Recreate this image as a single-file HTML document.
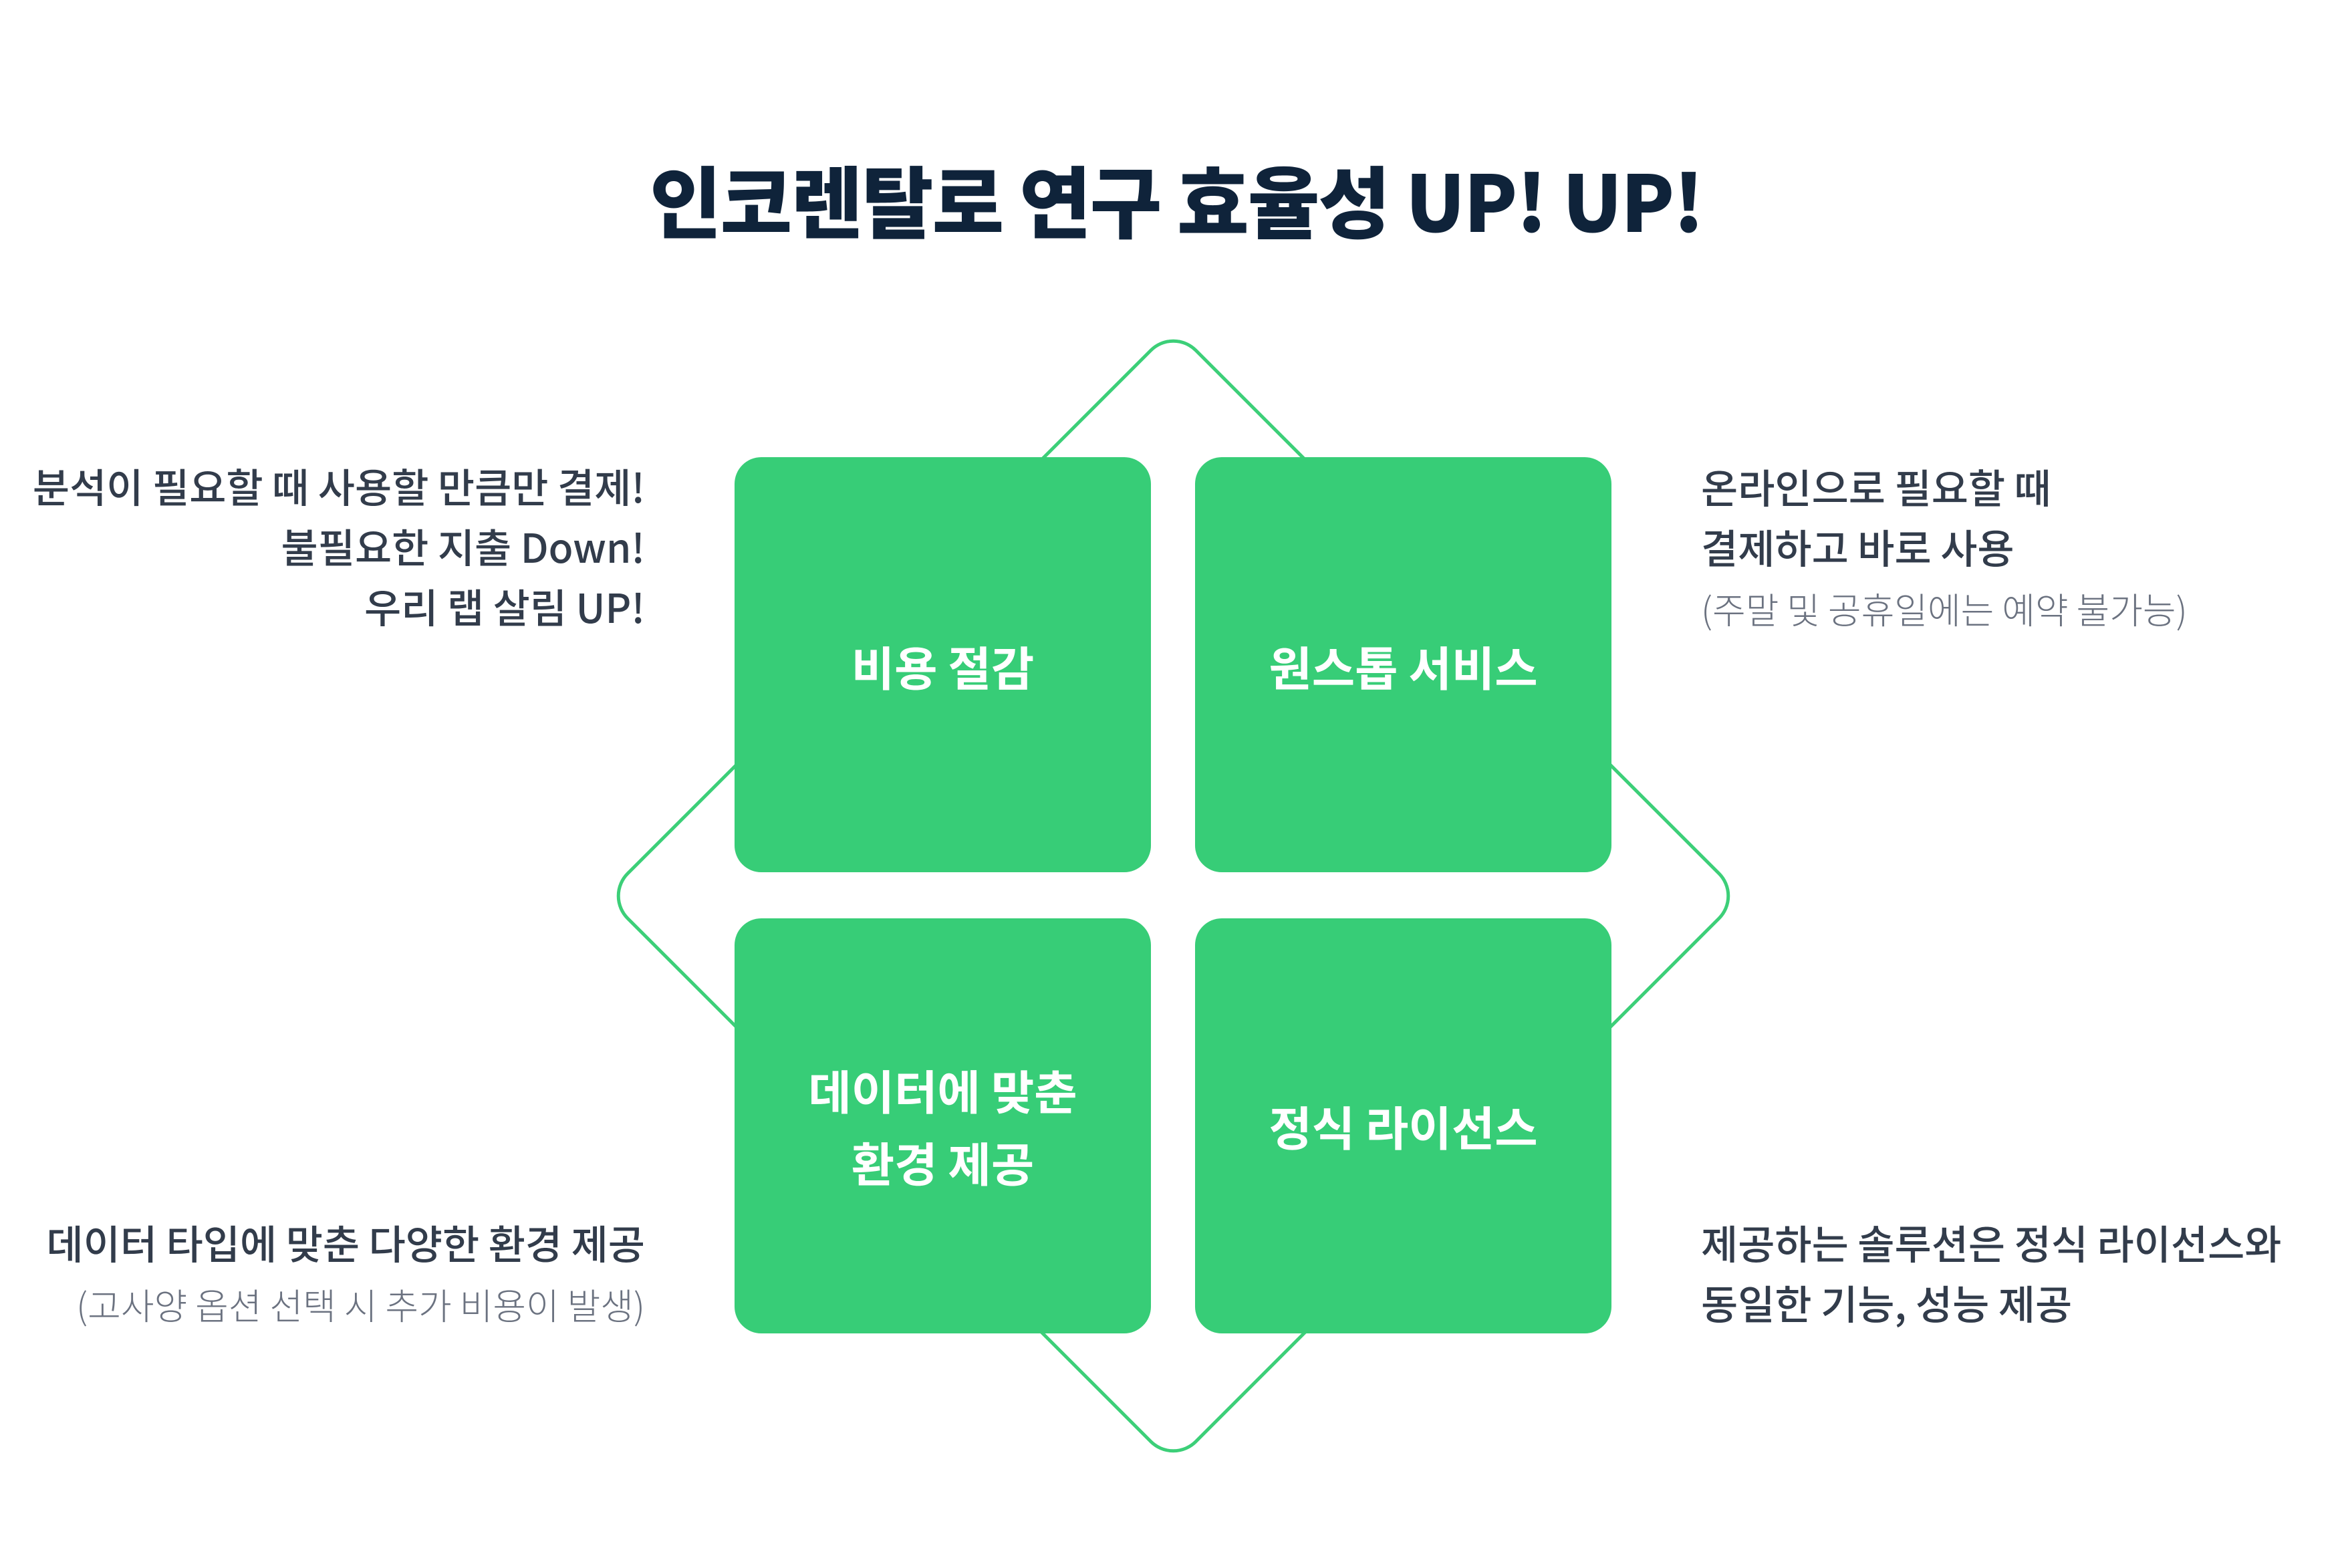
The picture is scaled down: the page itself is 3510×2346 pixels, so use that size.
<!DOCTYPE html>
<html><head><meta charset="utf-8"><style>
body{margin:0;width:3510px;height:2346px;background:#fff;position:relative;overflow:hidden;font-family:"Noto Sans CJK KR","Liberation Sans",sans-serif;}
.t{position:absolute;white-space:nowrap;}
.title{left:0;width:3520px;text-align:center;top:221px;font-size:117px;font-weight:900;color:#0f233a;line-height:150px;letter-spacing:-2px;}
.box{position:absolute;width:623px;height:621px;background:#37cd77;border-radius:40px;display:flex;align-items:center;justify-content:center;text-align:center;color:#fff;font-weight:700;font-size:70px;line-height:108px;}
.d{color:#323c4b;font-size:60px;font-weight:500;line-height:90px;}
.g{color:#6b7280;font-size:54px;font-weight:300;}
.r{text-align:right;}
</style></head><body>
<div class="t title">인코렌탈로 연구 효율성 UP! UP!</div>
<div style="position:absolute;left:1152px;top:737px;width:1207px;height:1207px;border:5px solid #3ccf78;border-radius:50px;transform:rotate(45deg);box-sizing:border-box;"></div>
<div class="box" style="left:1099px;top:684px;"><span style="margin-top:4px">비용 절감</span></div>
<div class="box" style="left:1788px;top:684px;"><span style="margin-top:4px">원스톱 서비스</span></div>
<div class="box" style="left:1099px;top:1374px;"><span style="margin-top:0px">데이터에 맞춘<br>환경 제공</span></div>
<div class="box" style="left:1788px;top:1374px;"><span style="margin-top:0px">정식 라이선스</span></div>
<div class="t d r" style="right:2545px;top:682px;">분석이 필요할 때 사용할 만큼만 결제!<br>불필요한 지출 Down!<br>우리 랩 살림 UP!</div>
<div class="t d" style="left:2545px;top:683px;">온라인으로 필요할 때<br>결제하고 바로 사용<br><span class="g">(주말 및 공휴일에는 예약 불가능)</span></div>
<div class="t d r" style="right:2545px;top:1814px;">데이터 타입에 맞춘 다양한 환경 제공<br><span class="g">(고사양 옵션 선택 시 추가 비용이 발생)</span></div>
<div class="t d" style="left:2545px;top:1814px;">제공하는 솔루션은 정식 라이선스와<br>동일한 기능, 성능 제공</div>
</body></html>
